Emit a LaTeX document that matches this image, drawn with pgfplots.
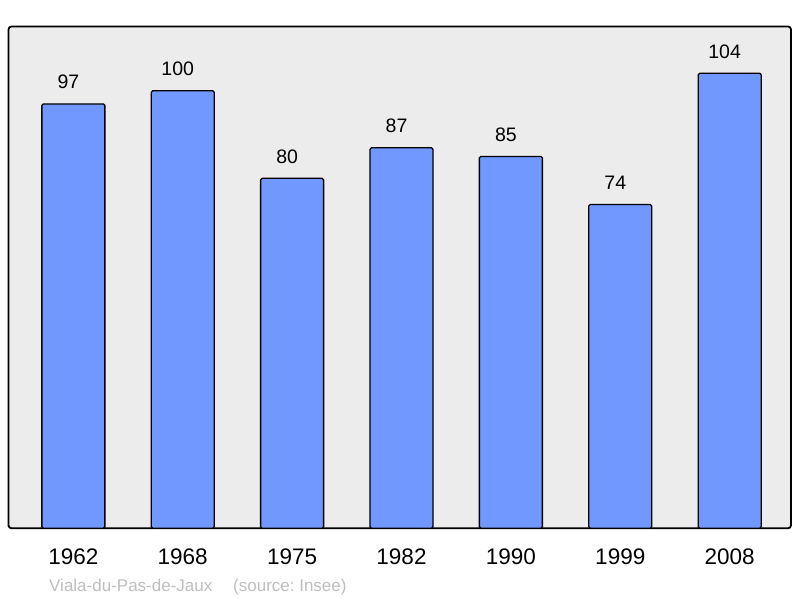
\documentclass[border=0pt]{standalone}
\usepackage{fontspec}
\setmainfont{Liberation Sans}
\usepackage{pgfplots}
\pgfplotsset{compat=1.18}
\definecolor{barblue}{RGB}{112,152,255}
\definecolor{bgray}{RGB}{236,236,236}
\definecolor{srcgray}{RGB}{190,190,190}
\frenchspacing
\begin{document}
\begin{tikzpicture}
\useasboundingbox (0,0) rectangle (800bp,598bp);
\begin{axis}[
 at={(8.5bp,69.7bp)}, anchor=south west,
 scale only axis, width=782.5bp, height=501.8bp,
 xmin=-0.593, xmax=6.561, ymin=0, ymax=114.7,
 axis background/.style={fill=bgray, rounded corners=3bp},
 axis line style={line width=1.8bp, rounded corners=3bp},
 xtick={0,...,6}, xticklabels={1962,1968,1975,1982,1990,1999,2008},
 ytick=\empty,
 major tick length=0pt,
 xtick style={draw=none},
 xticklabel style={font=\fontsize{22.5bp}{26bp}\selectfont, anchor=base, yshift=-36.7bp, inner sep=0pt},
 ybar, bar width=63bp,
 nodes near coords,
 nodes near coords style={font=\fontsize{19.5bp}{22bp}\selectfont, anchor=base, yshift=15bp, xshift=-5bp, inner sep=0pt, text=black},
 /pgf/number format/assume math mode=true,
 clip=false,
]
\addplot[fill=barblue, draw=black, line width=1.3bp, rounded corners=1.5bp] coordinates {(0,97)(1,100)(2,80)(3,87)(4,85)(5,74)(6,104)};
\end{axis}
\node[anchor=base west, inner sep=0pt, text=srcgray, font=\fontsize{17bp}{20bp}\selectfont] at (49bp,7bp) {Viala-du-Pas-de-Jaux};
\node[anchor=base west, inner sep=0pt, text=srcgray, font=\fontsize{17bp}{20bp}\selectfont] at (233bp,7bp) {(source: Insee)};
\end{tikzpicture}
\end{document}
